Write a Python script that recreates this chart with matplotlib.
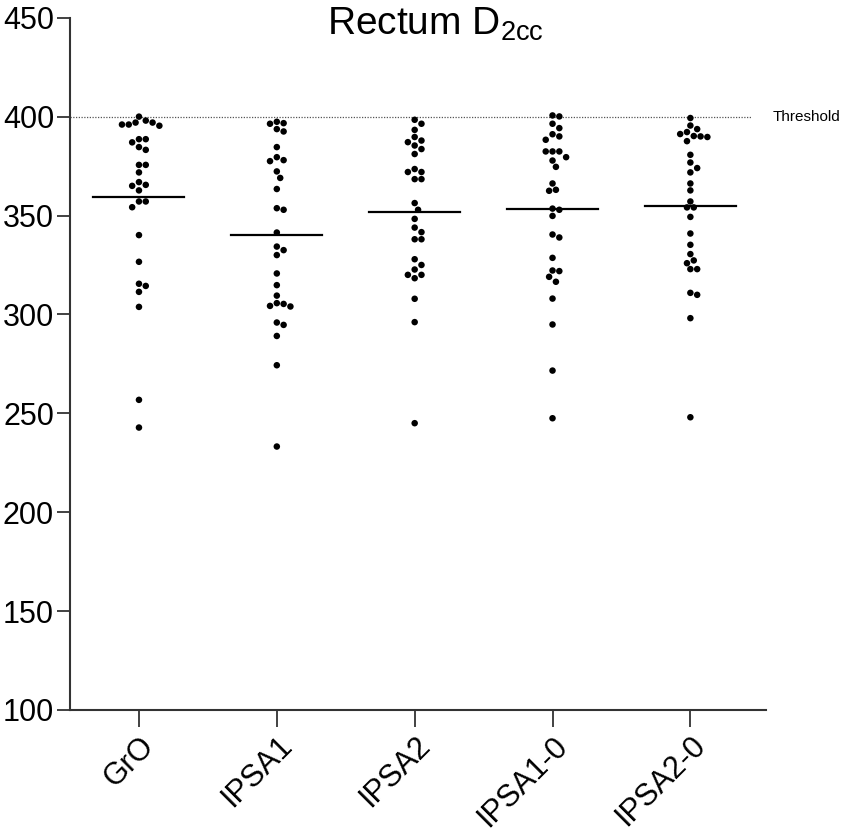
import numpy as np
import matplotlib
matplotlib.use("Agg")
import matplotlib.pyplot as plt

plt.rcParams['font.family'] = ['Liberation Sans', 'DejaVu Sans']

# Rectum D2cc values
groups = ["GrO", "IPSA1", "IPSA2", "IPSA1-0", "IPSA2-0"]
gro = [400.0, 398.0, 397.0, 397.0, 396.0, 396.0, 395.4, 388.6, 388.6, 387.0,
       384.6, 383.2, 375.6, 375.6, 371.8, 366.9, 365.5, 365.0, 362.7, 357.1,
       357.1, 354.2, 340.1, 326.6, 315.5, 314.4, 311.4, 303.8, 256.8, 242.8]
ipsa1 = [397.4, 396.7, 396.4, 393.7, 392.5, 384.6, 379.5, 378.0, 377.5, 372.3,
         369.0, 363.4, 353.7, 352.9, 341.4, 334.3, 332.5, 330.0, 320.7, 314.8,
         309.5, 305.7, 305.3, 304.3, 304.0, 295.9, 294.7, 289.1, 274.3, 233.2]
ipsa2 = [398.4, 396.4, 393.3, 389.7, 387.9, 387.1, 385.4, 383.6, 381.1, 373.5,
         372.0, 372.0, 368.4, 368.4, 356.3, 352.9, 348.3, 343.9, 341.6, 338.0,
         338.0, 327.9, 325.0, 322.7, 320.0, 320.0, 318.3, 307.9, 296.1, 245.0]
ipsa1_0 = [400.6, 400.1, 396.4, 394.2, 391.1, 390.0, 388.3, 382.4, 382.4, 382.4,
           379.5, 377.8, 374.6, 366.2, 363.0, 362.5, 353.5, 352.9, 349.8, 340.4,
           338.9, 328.6, 322.2, 321.9, 319.0, 316.5, 308.0, 294.9, 271.6, 247.5]
ipsa2_0 = [399.3, 395.5, 393.7, 392.2, 391.2, 390.2, 390.0, 389.7, 387.6, 380.7,
           376.8, 374.0, 371.8, 366.2, 362.7, 357.1, 354.1, 354.1, 349.3, 340.9,
           335.2, 330.5, 327.3, 325.9, 322.9, 322.9, 310.9, 309.9, 298.1, 248.0]
series = [gro, ipsa1, ipsa2, ipsa1_0, ipsa2_0]
threshold = 400
yticks = [100, 150, 200, 250, 300, 350, 400, 450]

fig = plt.figure(figsize=(8.5, 8.33), dpi=100)
ax = fig.add_axes([0.0824, 0.1477, 0.819, 0.831])
ax.set_xlim(-0.5, 4.55)
ax.set_ylim(100, 450)


def swarm_offsets(vals, dx_px, dy_px, dot=6.8):
    # simple beeswarm: place each point at the smallest free horizontal offset
    order = np.argsort(vals)[::-1]
    placed = []
    offs = np.zeros(len(vals))
    step = dot / 2.0
    for i in order:
        y = vals[i] * dy_px
        k = 0
        while True:
            cands = [0.0] if k == 0 else [k * step, -k * step]
            ok = None
            for c in cands:
                if all((c - px) ** 2 + (y - py) ** 2 >= dot ** 2 for px, py in placed):
                    ok = c
                    break
            if ok is not None:
                break
            k += 1
        placed.append((ok, y))
        offs[i] = ok / dx_px
    return offs


# pixels per data unit
p0 = ax.transData.transform((0, 0))
p1 = ax.transData.transform((1, 1))
dx_px, dy_px = p1 - p0

for i, vals in enumerate(series):
    vals = np.array(vals)
    xs = i + swarm_offsets(vals, dx_px, dy_px)
    ax.scatter(xs, vals, s=22, color='black', edgecolors='none', zorder=3)
    m = np.mean(vals)
    ax.plot([i - 0.33, i + 0.33], [m, m], color='black', lw=1.6, zorder=2)

ax.plot([-0.5, 4.45], [threshold, threshold], color='#555555', lw=0.9,
        linestyle=(0, (1, 1.2)), zorder=1)
ax.text(4.6, threshold, "Threshold", fontsize=11, va='center', ha='left',
        clip_on=False)

ax.set_xticks(range(len(groups)))
ax.set_xticklabels(groups, rotation=45, ha='right', rotation_mode='anchor',
                   fontsize=22)
ax.set_yticks(yticks)
ax.set_yticklabels([str(t) for t in yticks], fontsize=22)
ax.tick_params(axis='y', length=9.5, width=1.3, color='#333333', pad=2)
ax.tick_params(axis='x', length=12, width=1.3, color='#333333', pad=3)

for s in ['top', 'right']:
    ax.spines[s].set_visible(False)
for s in ['left', 'bottom']:
    ax.spines[s].set_color('#333333')
    ax.spines[s].set_linewidth(1.5)

fig.text(0.512, 1 - 35 / 833, r"Rectum D$_{\mathregular{2cc}}$", fontsize=28,
         ha='center', va='baseline')

fig.savefig("out.png", dpi=100)
